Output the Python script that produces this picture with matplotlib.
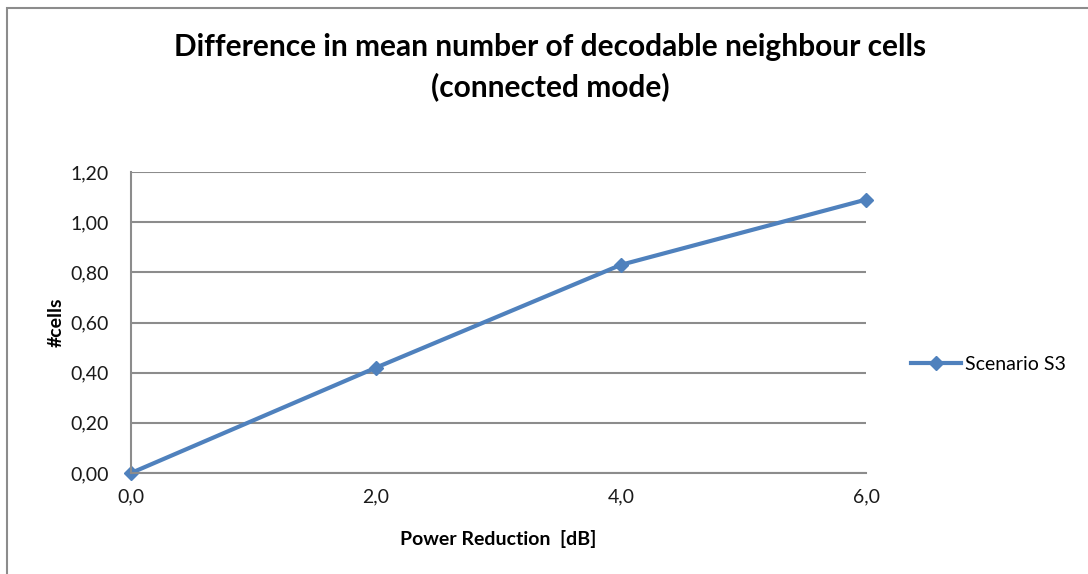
import matplotlib.pyplot as plt
from matplotlib.patches import Rectangle

plt.rcParams['font.family'] = ['Lato', 'DejaVu Sans']

# data
power_reduction = [0.0, 2.0, 4.0, 6.0]
cells_diff = [0.0, 0.42, 0.83, 1.09]
y_ticks = [0.0, 0.2, 0.4, 0.6, 0.8, 1.0, 1.2]
x_ticks = [0.0, 2.0, 4.0, 6.0]

fig = plt.figure(figsize=(10.88, 5.74), dpi=100)
ax = fig.add_axes([131/1088, 1 - 473/574, (866 - 131)/1088, (473 - 172)/574])

# outer chart frame (Excel style)
fig.patches.append(Rectangle((7/1088, -0.2), 1.2, 1.2 - 8/574,
                             transform=fig.transFigure, fill=False,
                             edgecolor='#8c8c8c', linewidth=1.5))

ax.plot(power_reduction, cells_diff, color='#4F81BD', linewidth=3,
        marker='D', markersize=7, label='Scenario S3', clip_on=False)

ax.set_xlim(0, 6)
ax.set_ylim(0, 1.2)
ax.set_xticks(x_ticks)
ax.set_xticklabels([f'{v:.1f}'.replace('.', ',') for v in x_ticks])
ax.set_yticks(y_ticks)
ax.set_yticklabels([f'{v:.2f}'.replace('.', ',') for v in y_ticks])
ax.tick_params(length=0, labelsize=14, colors='#1a1a1a')
ax.tick_params(axis='y', pad=16)
ax.tick_params(axis='x', pad=11)

ax.grid(axis='y', color='#8c8c8c', linewidth=1.5)
ax.set_axisbelow(True)
for s in ['top', 'right']:
    ax.spines[s].set_visible(False)
for s in ['left', 'bottom']:
    ax.spines[s].set_color('#8c8c8c')
    ax.spines[s].set_linewidth(1.5)

ax.set_xlabel('Power Reduction  [dB]', fontsize=14, fontweight='bold', labelpad=18)
ax.set_ylabel('#cells', fontsize=14, fontweight='bold', labelpad=4)

fig.text(550/1088, 1 - 67/574, 'Difference in mean number of decodable neighbour cells\n(connected mode)',
         ha='center', va='center', fontsize=21.5, fontweight='bold', linespacing=1.45)

ax.legend(loc='center left', bbox_to_anchor=(1.037, 0.36), frameon=False,
          fontsize=14, handlelength=2.6, handletextpad=0.2)

fig.savefig('out.png', dpi=100)
